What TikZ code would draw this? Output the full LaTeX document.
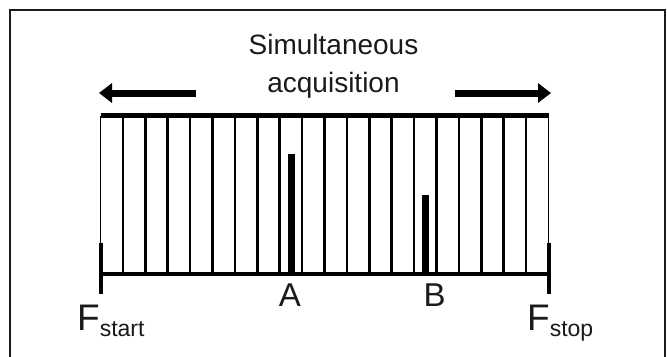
\documentclass[tikz,border=0pt]{standalone}
\usepackage{fontspec}
\setmainfont{Liberation Sans}
\usetikzlibrary{arrows.meta}
\definecolor{ink}{HTML}{1A1A1A}
\tikzset{
  grid line/.style={line width=2.6bp, black},
  bar/.style={line width=5bp, black},
  base line/.style={line width=4bp, black},
  edge thin/.style={line width=1.4bp, black},
  edge tick/.style={line width=4bp, black},
  peak/.style={fill=black, draw=none},
  big arrow/.style={line width=7bp, black, -{Triangle[length=13bp,width=19bp]}},
  lbl/.style={inner sep=0pt, text=ink},
}
\begin{document}
\begin{tikzpicture}[x=1bp,y=-1bp]
\useasboundingbox (0,0) rectangle (667,356);
\draw[line width=1.5bp, ink] (10,10) rectangle (665,370);
% axis coordinates
\coordinate (TL) at (100.5,115.5);
\coordinate (TR) at (548.5,115.5);
\coordinate (BL) at (100.5,274);
\coordinate (BR) at (548.5,274);
\coordinate (LtkA) at (101,243);
\coordinate (LtkB) at (101,294);
\coordinate (RtkA) at (548.7,243);
\coordinate (RtkB) at (548.7,294);
% vertical grid lines
\foreach \k in {1,...,19}{
  \coordinate (g\k t) at ({100.5+22.4*\k},116);
  \coordinate (g\k b) at ({100.5+22.4*\k},274);
  \draw[grid line] (g\k t) -- (g\k b);
}
% edges
\draw[edge thin] (TL) -- (100.5,243);
\draw[edge thin] (TR) -- (548.5,243);
\draw[edge tick] (LtkA) -- (LtkB);
\draw[edge tick] (RtkA) -- (RtkB);
% top bar and base line
\draw[bar] (TL) -- (TR);
\draw[base line] (BL) -- (BR);
% peaks
\fill[peak] (287.7,154) rectangle (295,274);
\fill[peak] (422,195) rectangle (429,274);
% title
\node[lbl, anchor=base] (t1) at (333.5,54) {\fontsize{28bp}{34bp}\selectfont Simultaneous};
\node[lbl, anchor=base] (t2) at (333.5,92) {\fontsize{28bp}{34bp}\selectfont acquisition};
% arrows
\coordinate (la1) at (196,93);
\coordinate (la2) at (99,93);
\coordinate (ra1) at (455,93);
\coordinate (ra2) at (551,93);
\draw[big arrow] (la1) -- (la2);
\draw[big arrow] (ra1) -- (ra2);
% labels
\node[lbl, anchor=base] (A) at (290,306.7) {\fontsize{33bp}{38bp}\selectfont A};
\node[lbl, anchor=base] (B) at (434.5,306.7) {\fontsize{33bp}{38bp}\selectfont B};
\node[lbl, anchor=base west] (Fs) at (77,330) {\fontsize{37bp}{42bp}\selectfont F\raisebox{-6bp}{\fontsize{23bp}{26bp}\selectfont start}};
\node[lbl, anchor=base west] (Fe) at (527,330) {\fontsize{37bp}{42bp}\selectfont F\raisebox{-6bp}{\fontsize{23bp}{26bp}\selectfont stop}};
\end{tikzpicture}
\end{document}
